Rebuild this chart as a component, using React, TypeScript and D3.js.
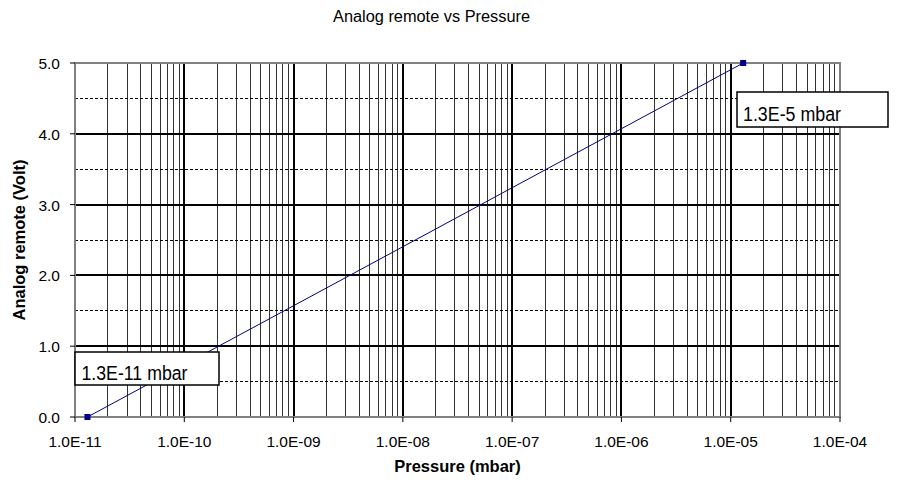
import React from "react";
import * as d3 from "d3";

const pressures = [1.3e-11, 1.3e-5];
const volts = [0.0, 5.0];
const xTicks = [1e-11, 1e-10, 1e-9, 1e-8, 1e-7, 1e-6, 1e-5, 1e-4];
const xTickLabels = ["1.0E-11", "1.0E-10", "1.0E-09", "1.0E-08", "1.0E-07", "1.0E-06", "1.0E-05", "1.0E-04"];
const yTicks = [0, 1, 2, 3, 4, 5];
const yMinor = [0.5, 1.5, 2.5, 3.5, 4.5];
const pointLabels = ["1.3E-11 mbar", "1.3E-5 mbar"];

export default function App() {
  const W = 897, H = 483;
  const L = 75, R = 840, T = 63, B = 417;
  const x = d3.scaleLog().domain([1e-11, 1e-4]).range([L, R]);
  const y = d3.scaleLinear().domain([0, 5]).range([B, T]);
  const minors: number[] = [];
  for (let e = -11; e < -4; e++) {
    for (let m = 2; m <= 9; m++) minors.push(m * Math.pow(10, e));
  }
  const line = d3.line<number>().x((_, i) => x(pressures[i])).y((d) => y(d));
  const font = "'Liberation Sans', Arial, sans-serif";
  return (
    <svg width={W} height={H} style={{ position: "absolute", left: 0, top: 0 }} fontFamily={font}>
      <rect x={0} y={0} width={W} height={H} fill="#fff" />
      <text x={431.5} y={22} textAnchor="middle" fontSize={16} textLength={197} lengthAdjust="spacingAndGlyphs">Analog remote vs Pressure</text>
      {minors.map((v, i) => (
        <line key={"mv" + i} x1={x(v)} x2={x(v)} y1={T} y2={B} stroke="#333" strokeWidth={1} shapeRendering="crispEdges" />
      ))}
      {yMinor.map((v, i) => (
        <line key={"hm" + i} x1={L} x2={R} y1={y(v)} y2={y(v)} stroke="#000" strokeWidth={1} strokeDasharray="3,2" shapeRendering="crispEdges" />
      ))}
      {xTicks.slice(1, -1).map((v, i) => (
        <line key={"vM" + i} x1={x(v)} x2={x(v)} y1={T} y2={B} stroke="#000" strokeWidth={2} shapeRendering="crispEdges" />
      ))}
      {yTicks.slice(1, -1).map((v, i) => (
        <line key={"hM" + i} x1={L} x2={R} y1={y(v)} y2={y(v)} stroke="#000" strokeWidth={2} shapeRendering="crispEdges" />
      ))}
      <rect x={L} y={T} width={R - L} height={B - T} fill="none" stroke="#808080" strokeWidth={2} shapeRendering="crispEdges" />
      {xTicks.map((v, i) => (
        <g key={"xt" + i}>
          <line x1={x(v)} x2={x(v)} y1={B} y2={B + 5} stroke="#000" strokeWidth={1} />
          <text x={x(v)} y={447} textAnchor="middle" fontSize={15.5}>{xTickLabels[i]}</text>
        </g>
      ))}
      {yTicks.map((v, i) => (
        <g key={"yt" + i}>
          <line x1={L - 5} x2={L} y1={y(v)} y2={y(v)} stroke="#000" strokeWidth={1} />
          <text x={60} y={y(v) + 6} textAnchor="end" fontSize={15.5}>{v.toFixed(1)}</text>
        </g>
      ))}
      <text x={457.5} y={472} textAnchor="middle" fontSize={16.5} fontWeight="bold">Pressure (mbar)</text>
      <text transform={`translate(25,${(T + B) / 2}) rotate(-90)`} textAnchor="middle" fontSize={16.5} fontWeight="bold">Analog remote (Volt)</text>
      <path d={line(volts) || ""} fill="none" stroke="#000080" strokeWidth={1} />
      {volts.map((v, i) => (
        <rect key={"pt" + i} x={x(pressures[i]) - 3} y={y(v) - 3} width={6} height={6} fill="#000080" />
      ))}
      <rect x={75} y={352} width={144} height={33} fill="#fff" stroke="#000" strokeWidth={1.5} />
      <text x={81.5} y={380} fontSize={20} textLength={106} lengthAdjust="spacingAndGlyphs">{pointLabels[0]}</text>
      <rect x={737} y={92} width={151} height={35} fill="#fff" stroke="#000" strokeWidth={1.5} />
      <text x={743} y={121} fontSize={20} textLength={98} lengthAdjust="spacingAndGlyphs">{pointLabels[1]}</text>
    </svg>
  );
}
